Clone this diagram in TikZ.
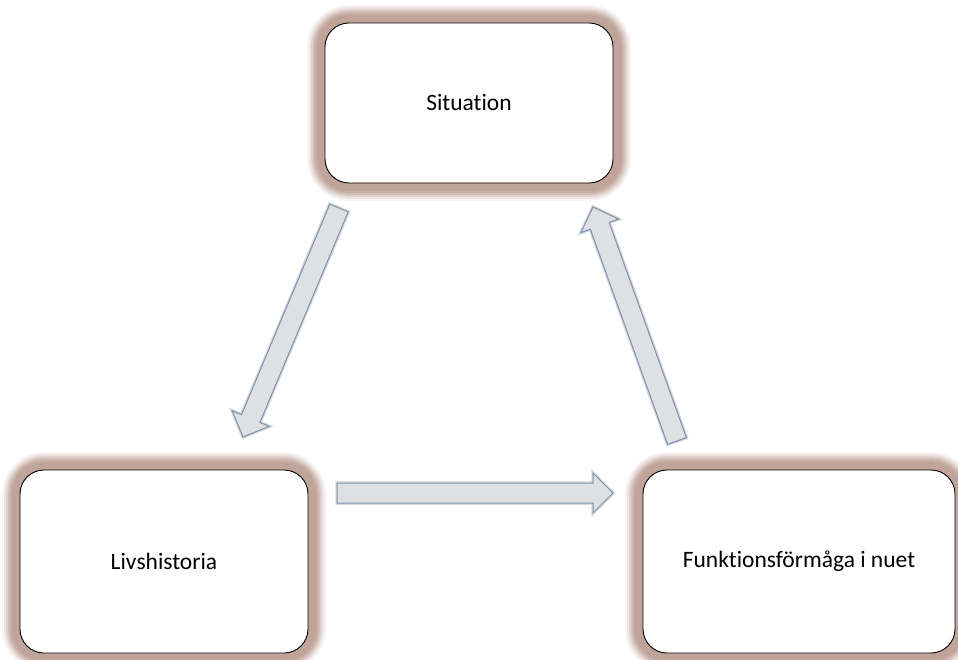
\documentclass[tikz,border=0pt]{standalone}
\usepackage{fontspec}
\setmainfont{Carlito}[Ligatures=NoCommon]
\usetikzlibrary{calc}
\definecolor{glow}{RGB}{192,164,154}
\definecolor{arrfill}{RGB}{222,224,227}
\definecolor{arrline}{RGB}{128,146,166}
\tikzset{
  glowbox/.style={
    preaction={draw=glow!12, line width=36pt},
    preaction={draw=glow!30, line width=32pt},
    preaction={draw=glow!50, line width=28pt},
    preaction={draw=glow!72, line width=24pt},
    preaction={draw=glow!90, line width=20pt},
    preaction={draw=glow, line width=16pt},
    draw=black, line width=0.9pt, fill=white, rounded corners=24pt,
    inner sep=0pt, font=\fontsize{23.5}{28}\selectfont},
  blockarrow/.style={
    preaction={draw=arrline!35, line width=3.5pt},
    fill=arrfill, draw=arrline, line width=1pt, line join=miter}
}
\newcommand\blockarr[2]{%
  \path[blockarrow]
    ($(#1)!10pt!90:(#2)$) --
    ($($(#2)!20pt!(#1)$)!10pt!90:(#2)$) --
    ($($(#2)!20pt!(#1)$)!20pt!90:(#2)$) --
    (#2) --
    ($($(#2)!20pt!(#1)$)!20pt!-90:(#2)$) --
    ($($(#2)!20pt!(#1)$)!10pt!-90:(#2)$) --
    ($(#1)!10pt!-90:(#2)$) -- cycle;}
\begin{document}
\begin{tikzpicture}[x=1pt,y=-1pt]
  \useasboundingbox (0,0) rectangle (958,660);
  \node[glowbox, minimum width=288pt, minimum height=160pt] (sit) at (469,103) {Situation};
  \node[glowbox, minimum width=288pt, minimum height=183pt] (liv) at (164,561.5) {Livshistoria};
  \node[glowbox, minimum width=312pt, minimum height=183pt] (fun) at (799,561.5) {Funktionsförmåga i nuet};
  \coordinate (a1s) at (339,208);
  \coordinate (a1e) at (243,437);
  \coordinate (a2s) at (677,441);
  \coordinate (a2e) at (593,207);
  \coordinate (a3s) at (337,493);
  \coordinate (a3e) at (613,493);
  \blockarr{a1s}{a1e}
  \blockarr{a2s}{a2e}
  \blockarr{a3s}{a3e}
\end{tikzpicture}
\end{document}
